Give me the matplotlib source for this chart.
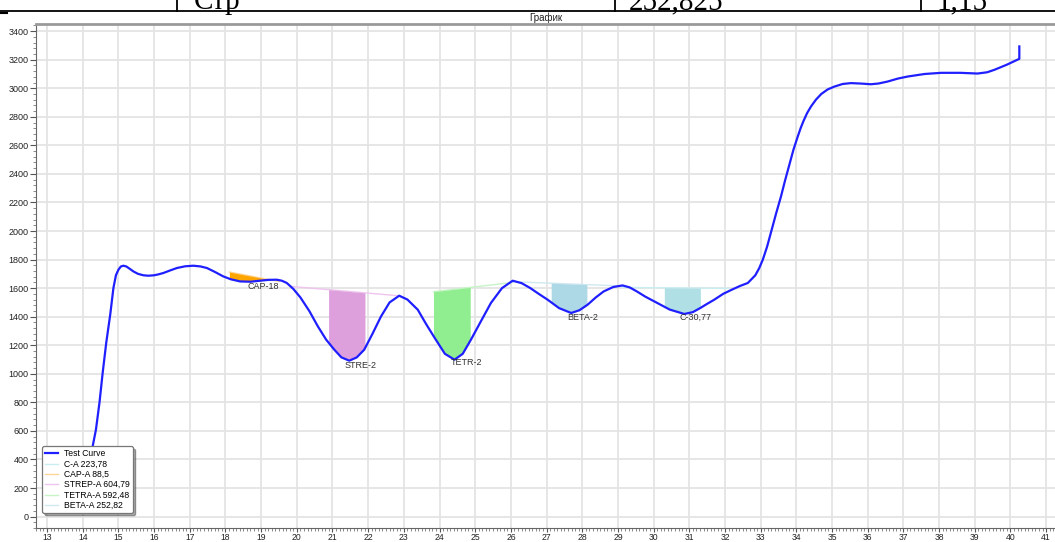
import numpy as np
import matplotlib
matplotlib.use("Agg")
import matplotlib.pyplot as plt
from matplotlib.ticker import MultipleLocator

# test curve
curve_x = [14.00, 14.26, 14.37, 14.47, 14.56, 14.66, 14.77, 14.86, 14.93, 15.00,
           15.07, 15.14, 15.22, 15.32, 15.42, 15.55, 15.70, 15.84, 16.00, 16.13,
           16.26, 16.45, 16.64, 16.87, 17.10, 17.30, 17.48, 17.70, 17.94, 18.15,
           18.41, 18.70, 18.97, 19.20, 19.44, 19.58, 19.72, 19.90, 20.10, 20.35,
           20.59, 20.82, 21.05, 21.25, 21.47, 21.68, 21.89, 22.12, 22.36, 22.60,
           22.87, 23.10, 23.39, 23.62, 23.86, 24.15, 24.42, 24.65, 24.88, 25.16,
           25.44, 25.75, 26.05, 26.30, 26.54, 26.78, 27.03, 27.35, 27.69, 27.92,
           28.15, 28.38, 28.60, 28.87, 29.13, 29.33, 29.53, 29.77, 30.02, 30.45,
           30.86, 31.10, 31.31, 31.50, 31.70, 31.95, 32.20, 32.42, 32.64, 32.85,
           32.96, 33.06, 33.18, 33.30, 33.43, 33.57, 33.68, 33.80, 33.92, 34.04,
           34.12, 34.20, 34.30, 34.41, 34.55, 34.70, 34.88, 35.07, 35.30, 35.53,
           35.80, 36.09, 36.30, 36.56, 36.85, 37.12, 37.60, 38.06, 38.60, 39.08,
           39.35, 39.55, 39.90, 40.25, 40.25]
curve_y = [150, 469, 609, 800, 1010, 1220, 1414, 1601, 1690, 1729,
           1752, 1757, 1752, 1735, 1717, 1700, 1690, 1687, 1690, 1697,
           1706, 1724, 1741, 1753, 1757, 1752, 1741, 1714, 1682, 1662,
           1647, 1645, 1652, 1658, 1659, 1652, 1636, 1595, 1535, 1440,
           1332, 1240, 1169, 1115, 1092, 1115, 1169, 1280, 1402, 1500,
           1547, 1520, 1449, 1350, 1253, 1140, 1099, 1140, 1239, 1368,
           1496, 1600, 1652, 1635, 1601, 1560, 1519, 1460, 1426, 1445,
           1484, 1535, 1577, 1608, 1619, 1605, 1577, 1540, 1507, 1450,
           1419, 1432, 1461, 1490, 1519, 1560, 1590, 1615, 1636, 1690,
           1740, 1799, 1890, 2000, 2120, 2242, 2350, 2460, 2570, 2662,
           2720, 2770, 2825, 2872, 2920, 2960, 2992, 3012, 3030, 3036,
           3033, 3028, 3033, 3047, 3068, 3082, 3100, 3108, 3108, 3103,
           3112, 3129, 3165, 3206, 3293]

# baseline chords (start x, start y, end x, end y) and filled ranges
peak_names = ['C', 'CAP', 'STREP', 'TETRA', 'BETA']
legend_names = ['C-A 223,78', 'CAP-A 88,5', 'STREP-A 604,79', 'TETRA-A 592,48', 'BETA-A 252,82']
base_x0 = [29.13, 18.11, 19.84, 23.83, 26.05]
base_y0 = [1605, 1713, 1612, 1575, 1645]
base_x1 = [32.10, 19.50, 22.83, 26.05, 29.13]
base_y1 = [1598, 1647, 1547, 1640, 1615]
fill_x0 = [30.30, 18.11, 20.89, 23.83, 27.13]
fill_x1 = [31.31, 19.11, 21.91, 24.86, 28.13]
fill_colors = ['#B0E0E6', '#FFA500', '#DDA0DD', '#90EE90', '#ADD8E6']
line_colors = ['#c9eef2', '#ffd69a', '#efc5ef', '#c6f4c6', '#cfe8f1']

labels = ['C-30,77', 'CAP-18', 'STRE-2', 'TETR-2', 'BETA-2']
label_x = [31.18, 19.05, 21.80, 24.76, 28.02]
label_y = [1393, 1608, 1057, 1078, 1393]

fig = plt.figure(figsize=(10.55, 5.42), dpi=100)
plt.rcParams['font.family'] = ['Liberation Sans', 'DejaVu Sans']

W, H = 1055.0, 542.0
ax = fig.add_axes([36 / W, 1 - 528 / H, 1 - 36 / W, (528 - 24) / H])

ax.plot(curve_x, curve_y, color='#1f1fff', lw=1.6, label='Test Curve', zorder=4)

cx = np.array(curve_x[:-1])
cy = np.array(curve_y[:-1])
for i in range(len(peak_names)):
    ax.plot([base_x0[i], base_x1[i]], [base_y0[i], base_y1[i]],
            color=line_colors[i], lw=1.0, label=legend_names[i], zorder=2)
    xs = np.linspace(fill_x0[i], fill_x1[i], 80)
    slope = (base_y1[i] - base_y0[i]) / (base_x1[i] - base_x0[i])
    yb = base_y0[i] + slope * (xs - base_x0[i])
    yc = np.interp(xs, cx, cy)
    ax.fill_between(xs, yc, yb, color=fill_colors[i], lw=0, zorder=3)
    ax.text(label_x[i], label_y[i], labels[i], fontsize=6.5, color='#333333',
            ha='center', va='center', zorder=5)

ax.set_xlim(12.69, 41.25)
ax.set_ylim(-80, 3450)
ax.xaxis.set_major_locator(MultipleLocator(1))
ax.xaxis.set_minor_locator(MultipleLocator(0.1))
ax.yaxis.set_major_locator(MultipleLocator(200))
ax.yaxis.set_minor_locator(MultipleLocator(40))
ax.grid(True, which='major', color='#e4e4e4', lw=1.3, zorder=0)
ax.set_axisbelow(True)
ax.tick_params(which='major', labelsize=6.5, length=4, width=0.8, color='#555555',
               labelcolor='#222222', pad=1.5)
ax.tick_params(which='minor', length=2, width=0.6, color='#777777')
ax.tick_params(axis='x', which='major', length=3, pad=0.3, labelsize=6.2)
ax.tick_params(axis='x', which='minor', length=1.8)

ax.spines['top'].set_color('#9a9a9a')
ax.spines['top'].set_linewidth(2)
ax.spines['right'].set_visible(False)
ax.spines['left'].set_color('#666666')
ax.spines['bottom'].set_color('#666666')

ax.set_title('График', fontsize=7, pad=2, color='#222222')

leg = ax.legend(loc='lower left', bbox_to_anchor=(0.006, 0.03), borderaxespad=0,
                fontsize=6.2, handlelength=1.5, handletextpad=0.7, labelspacing=0.15,
                borderpad=0.35, fancybox=True, shadow=True, framealpha=1,
                edgecolor='#777777')
leg.get_frame().set_linewidth(0.9)

# piece of the table above the chart (cut off by the top edge, as in the source)
fig.add_artist(plt.Line2D([0, 1], [1 - 11.3 / H, 1 - 11.3 / H], color='black', lw=1.3))
fig.add_artist(plt.Line2D([0, 7 / W], [1 - 13 / H, 1 - 13 / H], color='black', lw=1.5))
for vx in [176.7, 615, 921]:
    fig.add_artist(plt.Line2D([vx / W, vx / W], [1 - 11.3 / H, 1], color='black', lw=1.3))
table_text = ['Стр', '252,825', '1,15']
table_x = [194, 629, 936]
for t, tx in zip(table_text, table_x):
    fig.text(tx / W, 1 - 9.3 / H, t, fontsize=21, family='Liberation Serif',
             ha='left', va='baseline', color='black')

fig.savefig('out.png', dpi=100)
